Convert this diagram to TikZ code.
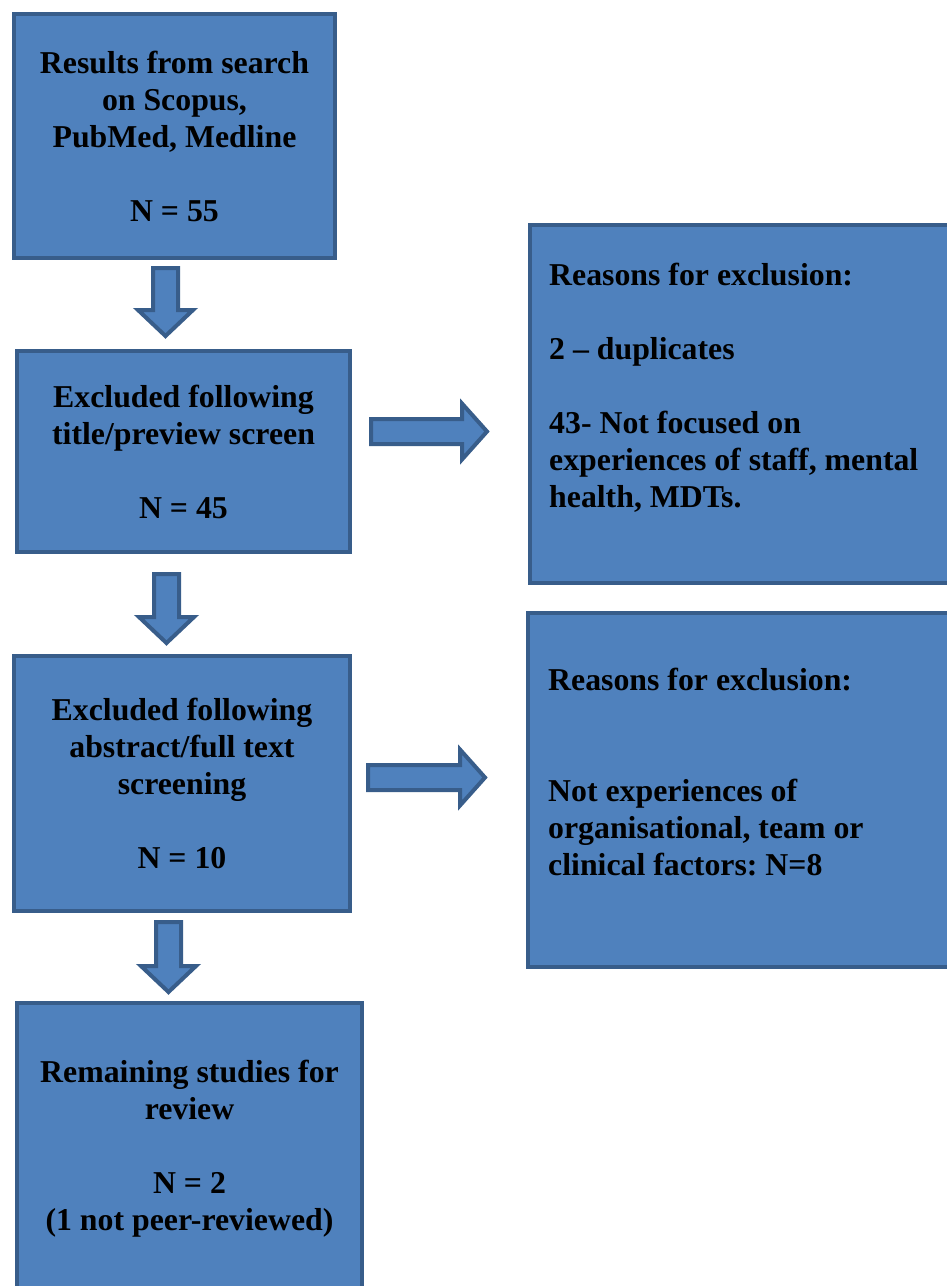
\documentclass[tikz,border=0pt]{standalone}
\usepackage{fontspec}
\setmainfont{Liberation Serif}
\usetikzlibrary{calc}
\frenchspacing

\definecolor{boxfill}{HTML}{4F81BD}
\definecolor{boxline}{HTML}{385D8A}

\tikzset{
	flowbox/.style = {draw = boxline, fill = boxfill, line width = 4pt, inner sep = 0pt,
		anchor = north west, align = center},
	flowtext/.style = {inner sep = 0pt, anchor = north west, align = left},
	flowarrow/.style = {draw = boxline, fill = boxfill, line width = 4pt}
}

% block arrow pointing down, from #1 (top of shaft) to #2 (tip)
\newcommand{\downflow}[2]{%
	\draw[flowarrow] let \p1 = (#1), \p2 = (#2) in
		(\x1-12.5pt,\y1) -- (\x1+12.5pt,\y1) -- (\x1+12.5pt,\y2+26pt) -- (\x1+27.5pt,\y2+26pt)
		-- (\x1,\y2) -- (\x1-27.5pt,\y2+26pt) -- (\x1-12.5pt,\y2+26pt) -- cycle;}
% block arrow pointing right, from #1 (back of shaft) to #2 (tip)
\newcommand{\rightflow}[2]{%
	\draw[flowarrow] let \p1 = (#1), \p2 = (#2) in
		(\x1,\y1+12.5pt) -- (\x2-25pt,\y1+12.5pt) -- (\x2-25pt,\y1+28pt) -- (\x2,\y1)
		-- (\x2-25pt,\y1-28pt) -- (\x2-25pt,\y1-12.5pt) -- (\x1,\y1-12.5pt) -- cycle;}

\begin{document}
\begin{tikzpicture}[x = 1pt, y = -1pt, font = \bfseries\fontsize{31.8}{37}\selectfont]
	\useasboundingbox (0,0) rectangle (947,1286);
	\clip (0,0) rectangle (947,1286);

	\node[flowbox, minimum width = 321pt, minimum height = 244pt] (b1) at (12,12)
		{Results from search\\on Scopus,\\PubMed, Medline\\[37pt]N = 55};
	\node[flowbox, minimum width = 333pt, minimum height = 201pt] (b2) at (15,349)
		{Excluded following\\title/preview screen\\[37pt]N = 45};
	\node[flowbox, minimum width = 336pt, minimum height = 255pt] (b3) at (12,654)
		{Excluded following\\abstract/full text\\screening\\[37pt]N = 10};
	\node[flowbox, minimum width = 345pt, minimum height = 292pt] (b4) at (15,1001)
		{Remaining studies for\\review\\[37pt]N = 2\\(1 not peer-reviewed)};

	\node[flowbox, minimum width = 432pt, minimum height = 358pt] (r1) at (528,223) {};
	\node[flowbox, minimum width = 434pt, minimum height = 354pt] (r2) at (526,611) {};

	\node[flowtext] (r1t) at ($(r1.north west)+(21,40)$)
		{Reasons for exclusion:\\[37pt]2 – duplicates\\[37pt]43- Not focused on\\experiences of staff, mental\\health, MDTs.};
	\node[flowtext] (r2t) at ($(r2.north west)+(22,57)$)
		{Reasons for exclusion:\\[74pt]Not experiences of\\organisational, team or\\clinical factors: N=8};

	\downflow{$(b1.south)+(-9,8)$}{$(b2.north)+(-9,-13)$}
	\downflow{$(b2.south)+(-17,20)$}{$(b3.north)+(-17,-11)$}
	\downflow{$(b3.south)+(-13.5,9)$}{$(b4.north)+(-13.5,-9)$}

	\rightflow{$(b2.east)+(19,-20)$}{$(r1.west)+(-41,27.5)$}
	\rightflow{$(b3.east)+(16,-6)$}{$(r2.west)+(-41,-12.5)$}
\end{tikzpicture}
\end{document}
